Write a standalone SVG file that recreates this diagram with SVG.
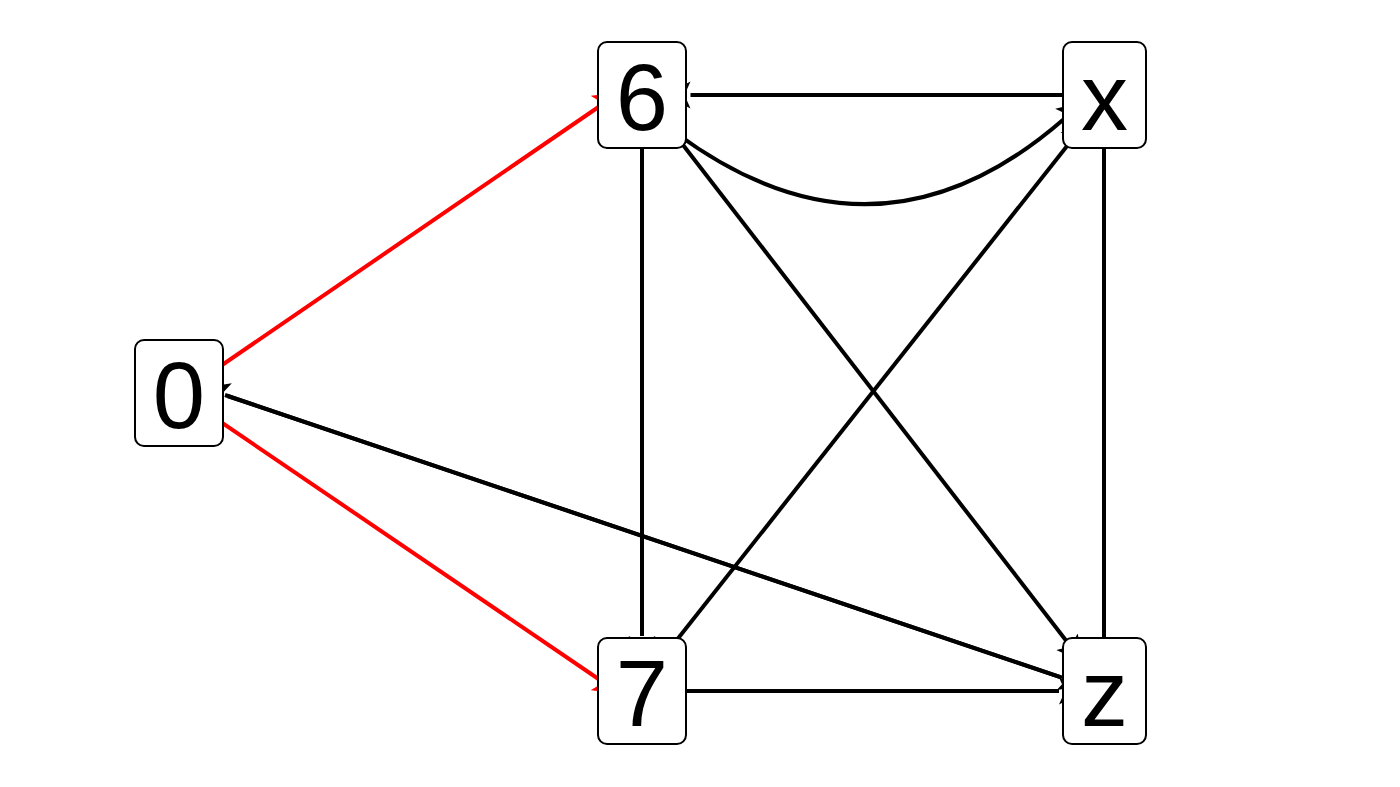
<svg xmlns="http://www.w3.org/2000/svg" width="1400" height="787" viewBox="0 0 1400 787">
<style>
.edge{fill:none;stroke:#000;stroke-width:4;marker-end:url(#ah)}
.red{stroke:#ff0000;marker-end:url(#ahr)}
.box{fill:#fff;stroke:#000;stroke-width:2}
.lbl{font-family:"Liberation Sans",Arial,sans-serif;font-size:94px;fill:#000;text-anchor:middle}
</style>
<defs>
<marker id="ah" viewBox="0 -14 26 28" refX="0" refY="0" markerWidth="26" markerHeight="28" markerUnits="userSpaceOnUse" orient="auto"><path d="M0,-13.5 L26,0 L0,13.5 L6,0 z" fill="#000"/></marker>
<marker id="ahr" viewBox="0 -14 26 28" refX="0" refY="0" markerWidth="26" markerHeight="28" markerUnits="userSpaceOnUse" orient="auto"><path d="M0,-13.5 L26,0 L0,13.5 L6,0 z" fill="#ff0000"/></marker>
</defs>
<rect width="1400" height="787" fill="#fff"/>
<g id="edges">
<path class="edge red" d="M190,387 L598.5,107"/>
<path class="edge red" d="M190,401 L598.5,679"/>
<path class="edge" d="M1062,677.6 L227.5,396"/>
<path class="edge" d="M225,395 L1061,677.3"/>
<path class="edge" d="M1104,95 L690.5,95"/>
<path class="edge" d="M676,133 Q877,282 1064,119"/>
<path class="edge" d="M642,95 L642,636"/>
<path class="edge" d="M656,110 L1067,641.7"/>
<path class="edge" d="M661,660 L1071,141"/>
<path class="edge" d="M642,691 L1059,691"/>
<path class="edge" d="M1104,95 L1104,641"/>
</g>
<g id="node-6"><rect class="box" x="598" y="42" width="88" height="106" rx="9"/><text class="lbl" x="642" y="130">6</text></g>
<g id="node-x"><rect class="box" x="1063" y="42" width="83" height="106" rx="9"/><text class="lbl" x="1104.5" y="130">x</text></g>
<g id="node-0"><rect class="box" x="135" y="340" width="88" height="106" rx="9"/><text class="lbl" x="179" y="428">0</text></g>
<g id="node-7"><rect class="box" x="598" y="638" width="88" height="106" rx="9"/><text class="lbl" x="642" y="726">7</text></g>
<g id="node-z"><rect class="box" x="1063" y="638" width="83" height="106" rx="9"/><text class="lbl" x="1104.5" y="726">z</text></g>
</svg>
